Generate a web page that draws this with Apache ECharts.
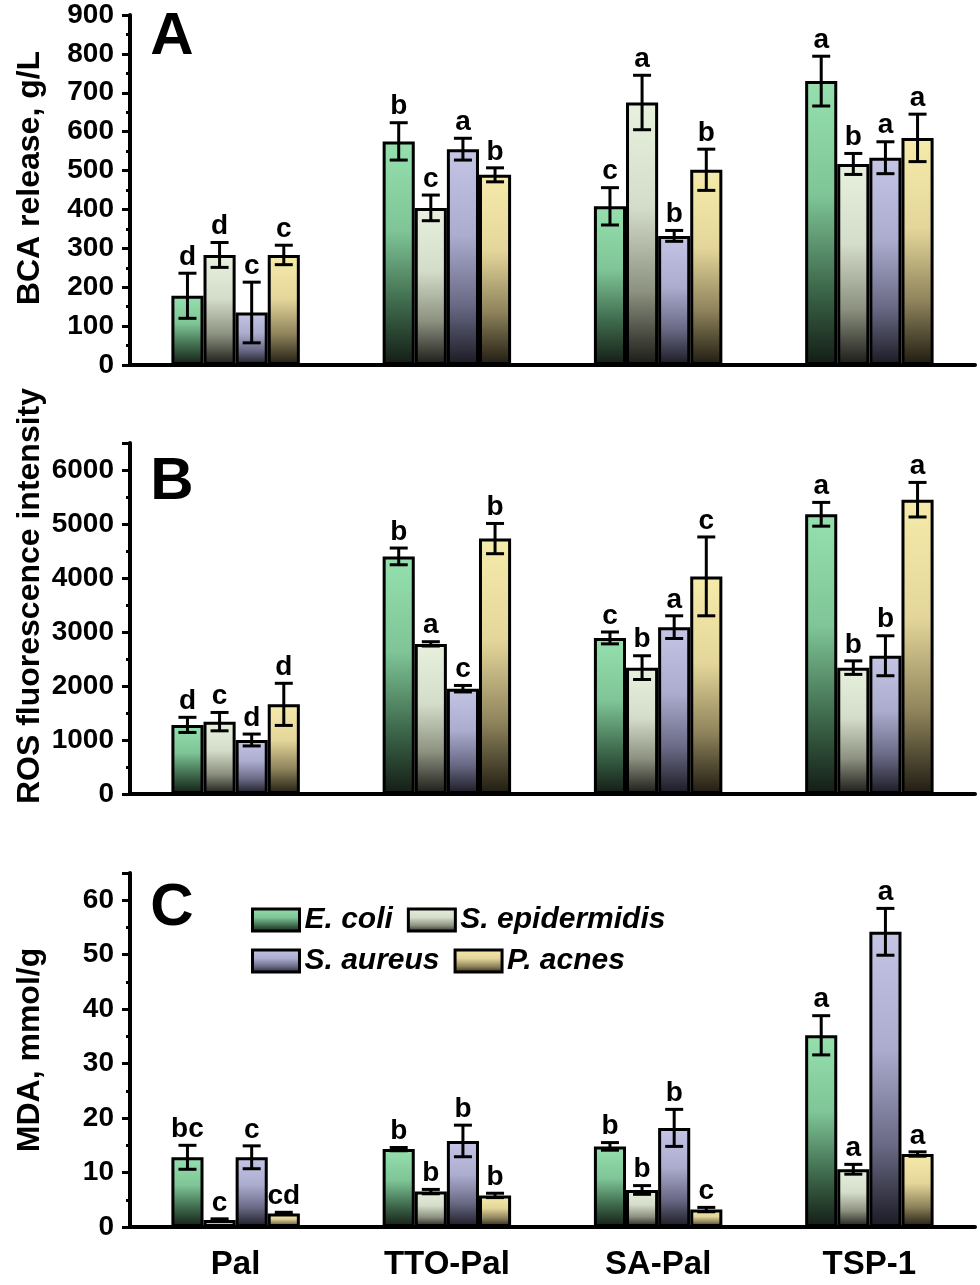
<!DOCTYPE html>
<html>
<head>
<meta charset="utf-8">
<script src="https://cdn.jsdelivr.net/npm/echarts@6/dist/echarts.min.js"></script>
<style>
  html, body { margin: 0; padding: 0; background: #fff; }
  #chart { width: 980px; height: 1285px; }
</style>
</head>
<body>
<div id="chart"></div>
<script>
// ---------------- DATA ----------------
const categories = ['Pal', 'TTO-Pal', 'SA-Pal', 'TSP-1'];
const seriesNames = ['E. coli', 'S. epidermidis', 'S. aureus', 'P. acnes'];

// Panel A: BCA release, g/L
const bcaEcoli = [178, 575, 408, 730];
const bcaEcoliErr = [58, 48, 48, 64];
const bcaEcoliSig = ['d', 'b', 'c', 'a'];
const bcaSepi = [283, 404, 675, 517];
const bcaSepiErr = [32, 33, 70, 27];
const bcaSepiSig = ['d', 'c', 'a', 'b'];
const bcaSaur = [135, 555, 332, 533];
const bcaSaurErr = [78, 28, 14, 41];
const bcaSaurSig = ['c', 'a', 'b', 'a'];
const bcaPacn = [283, 489, 502, 584];
const bcaPacnErr = [25, 18, 53, 61];
const bcaPacnSig = ['c', 'b', 'b', 'a'];

// Panel B: ROS fluorescence intensity
const rosEcoli = [1280, 4400, 2890, 5180];
const rosEcoliErr = [140, 155, 110, 220];
const rosEcoliSig = ['d', 'b', 'c', 'a'];
const rosSepi = [1340, 2780, 2340, 2340];
const rosSepiErr = [170, 40, 220, 125];
const rosSepiSig = ['c', 'a', 'b', 'b'];
const rosSaur = [1000, 1950, 3090, 2560];
const rosSaurErr = [110, 60, 210, 370];
const rosSaurSig = ['d', 'c', 'a', 'b'];
const rosPacn = [1660, 4730, 4030, 5450];
const rosPacnErr = [390, 280, 730, 320];
const rosPacnSig = ['d', 'b', 'c', 'a'];

// Panel C: MDA, mmol/g
const mdaEcoli = [12.8, 14.3, 14.8, 35.2];
const mdaEcoliErr = [2.2, 0.3, 0.7, 3.6];
const mdaEcoliSig = ['bc', 'b', 'b', 'a'];
const mdaSepi = [1.3, 6.5, 6.8, 10.6];
const mdaSepiErr = [0.2, 0.4, 0.8, 0.9];
const mdaSepiSig = ['c', 'b', 'b', 'a'];
const mdaSaur = [12.8, 15.8, 18.2, 54.2];
const mdaSaurErr = [2.1, 2.9, 3.4, 4.3];
const mdaSaurSig = ['c', 'b', 'b', 'a'];
const mdaPacn = [2.5, 5.8, 3.2, 13.4];
const mdaPacnErr = [0.2, 0.4, 0.4, 0.4];
const mdaPacnSig = ['cd', 'b', 'c', 'a'];

// y-axis settings per panel
const yTitles = ['BCA release, g/L', 'ROS fluorescence intensity', 'MDA, mmol/g'];
const yMax = [900, 6500, 65];
const yInterval = [100, 1000, 10];
const panelLetters = ['A', 'B', 'C'];

// ---------------- STYLE ----------------
const FONT = '"Liberation Sans", Arial, Helvetica, sans-serif';
const BAR_FRAC = 0.152;
const grids = [
  { left: 130, right: 5, top: 15, height: 350, outerBoundsMode: 'none', containLabel: false },
  { left: 130, right: 5, top: 443, height: 351, outerBoundsMode: 'none', containLabel: false },
  { left: 130, right: 5, top: 873, height: 354, outerBoundsMode: 'none', containLabel: false }
];
function grad(c0, c1, c2, c3) {
  return new echarts.graphic.LinearGradient(0, 0, 0, 1, [
    { offset: 0, color: c0 }, { offset: 0.4, color: c1 },
    { offset: 0.72, color: c2 }, { offset: 1, color: c3 }
  ]);
}
const fills = [
  grad('#96e0ae', '#7fc597', '#3f6b4d', '#131c15'),
  grad('#e8f1de', '#d4ddc9', '#8c9180', '#1b1b17'),
  grad('#c5c6e6', '#abacce', '#6a6a86', '#1a1a23'),
  grad('#f6ebab', '#e4d69a', '#8e835b', '#1f1b11')
];

const panels = [
  { vals: [bcaEcoli, bcaSepi, bcaSaur, bcaPacn], errs: [bcaEcoliErr, bcaSepiErr, bcaSaurErr, bcaPacnErr], sig: [bcaEcoliSig, bcaSepiSig, bcaSaurSig, bcaPacnSig] },
  { vals: [rosEcoli, rosSepi, rosSaur, rosPacn], errs: [rosEcoliErr, rosSepiErr, rosSaurErr, rosPacnErr], sig: [rosEcoliSig, rosSepiSig, rosSaurSig, rosPacnSig] },
  { vals: [mdaEcoli, mdaSepi, mdaSaur, mdaPacn], errs: [mdaEcoliErr, mdaSepiErr, mdaSaurErr, mdaPacnErr], sig: [mdaEcoliSig, mdaSepiSig, mdaSaurSig, mdaPacnSig] }
];

const xAxes = [], yAxes = [], series = [], graphics = [];
const titleCenters = [178, 596, 1050];
const letterCenters = [37, 482, 908];

panels.forEach(function (p, gi) {
  // main category axis (ticks at centers)
  xAxes.push({
    type: 'category', gridIndex: gi, data: categories, position: 'bottom',
    axisLine: { lineStyle: { color: '#000', width: 4 } },
    axisTick: { alignWithLabel: true, length: 8, lineStyle: { color: '#000', width: 4 } },
    axisLabel: gi === 2 ? { color: '#000', fontSize: 33, fontWeight: 'bold', fontFamily: FONT, margin: 21 } : { show: false },
    splitLine: { show: false }
  });
  // secondary axis: short ticks at category boundaries
  xAxes.push({
    type: 'category', gridIndex: gi, data: categories, position: 'bottom',
    axisLine: { show: false },
    axisTick: { length: 4, lineStyle: { color: '#000', width: 3 } },
    axisLabel: { show: false }, splitLine: { show: false }
  });
  yAxes.push({
    type: 'value', gridIndex: gi, min: 0, max: yMax[gi], interval: yInterval[gi],
    axisLine: { show: true, lineStyle: { color: '#000', width: 4 } },
    axisTick: { show: true, length: 8, lineStyle: { color: '#000', width: 3 } },
    minorTick: { show: true, splitNumber: 2, length: 4, lineStyle: { color: '#000', width: 3 } },
    axisLabel: {
      color: '#000', fontSize: 28, fontWeight: 'bold', fontFamily: FONT, margin: 16,
      showMaxLabel: gi === 0,
      formatter: function (v) { return String(v); }
    },
    splitLine: { show: false }
  });
  for (let s = 0; s < 4; s++) {
    series.push({
      type: 'bar', name: seriesNames[s], xAxisIndex: gi * 2, yAxisIndex: gi,
      data: p.vals[s], barWidth: (BAR_FRAC * 100) + '%', barGap: '0%',
      itemStyle: { color: fills[s], borderColor: '#000', borderWidth: 3 },
      z: 2
    });
  }
  const cdata = [];
  for (let s = 0; s < 4; s++) {
    for (let c = 0; c < 4; c++) cdata.push([c, p.vals[s][c], p.errs[s][c], s]);
  }
  const sig = p.sig;
  series.push({
    type: 'custom', xAxisIndex: gi * 2, yAxisIndex: gi, data: cdata, z: 5, clip: false,
    silent: true,
    renderItem: function (params, api) {
      const cat = api.value(0), v = api.value(1), e = api.value(2), s = api.value(3);
      const band = api.size([1, 0])[0];
      const bw = band * BAR_FRAC;
      const c = api.coord([cat, v]);
      const x = c[0] + (s - 1.5) * bw;
      const yT = api.coord([cat, v + e])[1];
      const yB = api.coord([cat, v - e])[1];
      const half = 9;
      const st = { stroke: '#000', lineWidth: 3 };
      return {
        type: 'group', children: [
          { type: 'line', shape: { x1: x, y1: yT, x2: x, y2: yB }, style: st },
          { type: 'line', shape: { x1: x - half, y1: yT, x2: x + half, y2: yT }, style: st },
          { type: 'line', shape: { x1: x - half, y1: yB, x2: x + half, y2: yB }, style: st },
          { type: 'text', x: x, y: yT - 2, style: { text: sig[s][cat], fill: '#000', font: 'bold 28px ' + FONT, align: 'center', verticalAlign: 'bottom' } }
        ]
      };
    }
  });
  graphics.push({
    type: 'text', x: 30, y: titleCenters[gi], rotation: Math.PI / 2,
    style: { text: yTitles[gi], fill: '#000', font: 'bold 32px ' + FONT, align: 'center', verticalAlign: 'middle' }
  });
  graphics.push({
    type: 'text', x: 172, y: letterCenters[gi],
    style: { text: panelLetters[gi], fill: '#000', font: 'bold 60px ' + FONT, align: 'center', verticalAlign: 'middle' }
  });
});

const legendCommon = {
  orient: 'horizontal', icon: 'rect', itemWidth: 47, itemHeight: 22, itemGap: 14,
  itemStyle: { borderColor: '#000', borderWidth: 3 },
  textStyle: { color: '#000', fontSize: 30, fontWeight: 'bold', fontStyle: 'italic', fontFamily: FONT, padding: [0, 0, 0, 0] },
  selectedMode: false
};

const option = {
  animation: false,
  backgroundColor: '#fff',
  grid: grids,
  xAxis: xAxes,
  yAxis: yAxes,
  legend: [
    Object.assign({}, legendCommon, { left: 246, top: 900, data: [seriesNames[0], seriesNames[1]] }),
    Object.assign({}, legendCommon, { left: 246, top: 941, data: [seriesNames[2], seriesNames[3]] })
  ],
  series: series,
  graphic: graphics
};

const chart = echarts.init(document.getElementById('chart'), null, { renderer: 'canvas' });
chart.setOption(option);
</script>
</body>
</html>
